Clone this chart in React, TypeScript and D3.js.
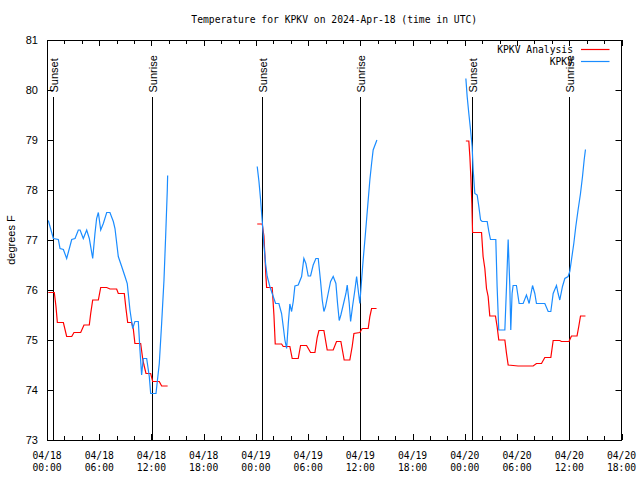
import React from "react";
import * as d3 from "d3";

const title = "Temperature for KPKV on 2024-Apr-18 (time in UTC)";
const yLabel = "degrees F";
const seriesNames = ["KPKV Analysis", "KPKV"];
const seriesColors = ["#ff0000", "#1a8cff"];
const yTicks = [73, 74, 75, 76, 77, 78, 79, 80, 81];
const xTickHours = [0, 6, 12, 18, 24, 30, 36, 42, 48, 54, 60, 66];
const sunsetHours = [0.73, 24.75, 48.84];
const sunriseHours = [12.03, 36.0, 60.0];

// [hours since 2024-04-18 00:00 UTC, temperature F]
const analysisSeg1: [number, number][] = [[0.15,75.95],[0.84,75.95],[1.03,75.67],[1.19,75.35],[1.88,75.35],[2.26,75.07],[2.84,75.07],[3.1,75.15],[3.87,75.15],[4.25,75.3],[4.86,75.3],[5.02,75.53],[5.25,75.8],[5.9,75.8],[6.17,76.05],[6.86,76.05],[7.23,76.02],[8.0,76.02],[8.19,75.93],[8.88,75.93],[9.07,75.63],[9.27,75.35],[9.72,75.35],[9.91,75.23],[10.1,74.93],[10.76,74.93],[10.99,74.63],[11.14,74.5],[11.37,74.33],[11.91,74.33],[12.14,74.17],[12.9,74.17],[13.17,74.08],[13.86,74.08]];
const analysisSeg2: [number, number][] = [[24.15,77.32],[24.73,77.32],[24.92,77.08],[25.03,76.7],[25.15,76.27],[25.23,76.05],[25.87,76.05],[26.07,75.5],[26.22,74.92],[26.95,74.92],[27.14,74.87],[27.9,74.87],[28.17,74.63],[28.86,74.63],[29.13,74.89],[29.82,74.89],[30.28,74.75],[30.78,74.75],[31.04,75.05],[31.24,75.19],[31.81,75.19],[32.19,74.8],[32.88,74.8],[33.26,74.97],[33.76,74.97],[34.14,74.6],[34.79,74.6],[35.06,74.87],[35.26,75.13],[35.94,75.15],[36.21,75.23],[36.9,75.23],[37.09,75.47],[37.29,75.63],[37.86,75.63]];
const analysisSeg3: [number, number][] = [[48.12,78.98],[48.46,78.98],[48.58,78.67],[48.69,78.27],[48.81,77.73],[48.89,77.15],[49.92,77.15],[50.1,76.67],[50.3,76.43],[50.49,76.03],[50.68,75.87],[50.87,75.48],[51.52,75.48],[51.71,75.27],[51.9,75.0],[52.6,75.0],[52.79,74.73],[52.98,74.5],[54.12,74.48],[55.85,74.48],[56.23,74.53],[56.81,74.53],[57.19,74.65],[57.88,74.65],[58.15,74.99],[58.91,74.99],[59.1,74.97],[59.97,74.97],[60.25,75.08],[60.89,75.08],[61.09,75.27],[61.29,75.48],[61.86,75.48]];

const obsSeg1: [number, number][] = [[0.15,77.39],[0.73,77.03],[1.3,77.01],[1.5,76.83],[1.88,76.81],[2.26,76.63],[2.84,77.01],[3.22,77.03],[3.6,77.2],[3.8,77.2],[4.17,77.03],[4.56,77.2],[4.86,77.03],[5.25,76.63],[5.51,77.13],[5.7,77.43],[5.9,77.55],[6.17,77.2],[6.47,77.33],[6.86,77.55],[7.23,77.55],[7.62,77.37],[7.81,77.23],[8.19,76.67],[8.58,76.47],[8.96,76.27],[9.22,76.13],[9.53,75.6],[9.84,75.23],[10.1,75.37],[10.49,75.37],[10.68,74.8],[10.87,74.3],[11.06,74.63],[11.45,74.63],[11.75,74.27],[11.91,73.93],[12.52,73.93],[12.9,74.53],[13.17,75.33],[13.44,76.2],[13.63,77.07],[13.82,78.0],[13.86,78.29]];
const obsSeg2: [number, number][] = [[24.15,78.47],[24.35,78.17],[24.54,77.8],[24.73,77.37],[24.92,76.9],[25.11,76.53],[25.3,76.27],[25.6,76.07],[25.87,75.93],[26.26,75.73],[26.64,75.73],[26.95,75.53],[27.14,75.27],[27.33,75.0],[27.53,74.83],[27.72,75.33],[27.9,75.72],[28.1,75.57],[28.29,75.77],[28.48,76.08],[28.86,76.1],[29.25,76.27],[29.51,76.63],[29.74,76.53],[30.01,76.28],[30.28,76.28],[30.58,76.5],[30.89,76.63],[31.16,76.63],[31.43,76.17],[31.62,75.8],[31.81,75.57],[32.0,75.67],[32.3,75.93],[32.58,76.17],[32.88,76.27],[33.19,76.13],[33.38,75.73],[33.57,75.39],[33.76,75.5],[34.03,75.7],[34.34,75.93],[34.49,76.1],[34.72,75.73],[34.88,75.37],[35.1,75.67],[35.37,76.0],[35.57,76.27],[35.75,76.0],[35.94,75.73],[36.14,76.2],[36.32,76.6],[36.52,77.0],[36.71,77.4],[36.9,77.8],[37.09,78.2],[37.29,78.53],[37.47,78.8],[37.9,79.0]];
const obsSeg3: [number, number][] = [[48.12,80.23],[48.27,79.87],[48.46,79.53],[48.66,79.2],[48.84,78.87],[48.96,78.4],[49.15,77.93],[49.42,77.9],[49.61,77.67],[49.81,77.4],[49.99,77.37],[50.57,77.37],[50.76,77.17],[50.95,77.01],[51.56,77.01],[51.71,76.07],[51.9,75.2],[52.6,75.2],[52.79,76.07],[52.98,77.01],[53.17,76.07],[53.28,75.2],[53.43,75.93],[53.55,76.09],[53.93,76.09],[54.24,75.73],[54.7,75.73],[55.08,75.9],[55.39,75.73],[55.78,76.09],[56.04,75.93],[56.23,75.73],[57.19,75.73],[57.58,75.57],[57.88,75.57],[58.15,75.93],[58.53,76.09],[58.72,75.93],[58.91,75.8],[59.22,76.07],[59.49,76.23],[59.87,76.27],[60.06,76.37],[60.25,76.6],[60.52,76.93],[60.75,77.27],[61.01,77.6],[61.29,77.93],[61.52,78.27],[61.71,78.6],[61.86,78.81]];

const analysisSegments = [analysisSeg1, analysisSeg2, analysisSeg3];
const obsSegments = [obsSeg1, obsSeg2, obsSeg3];

const W = 640, H = 480;
const L = 47, R = 621.5, T = 40, B = 440;
const start = Date.UTC(2024, 3, 18, 0, 0);
const hr = (h: number) => new Date(start + h * 3600000);

export default function App() {
  const x = d3.scaleUtc().domain([hr(0), hr(66)]).range([L, R]);
  const y = d3.scaleLinear().domain([73, 81]).range([B, T]);
  const line = d3.line<[number, number]>().x((d) => x(hr(d[0]))).y((d) => y(d[1]));
  const minorHours = d3.range(0, 67, 2);
  const mono = "'DejaVu Sans Mono', monospace";
  const sans = "'Liberation Sans', Arial, sans-serif";
  const fmtDate = d3.utcFormat("%m/%d");
  const fmtTime = d3.utcFormat("%H:%M");
  const events = [
    ...sunsetHours.map((h) => ({ h, label: "Sunset" })),
    ...sunriseHours.map((h) => ({ h, label: "Sunrise" })),
  ];
  return (
    <svg width={W} height={H} style={{ position: "absolute", left: 0, top: 0, background: "#fff" }}>
      <rect x={0} y={0} width={W} height={H} fill="#fff" />
      <text x={(L + R) / 2} y={23} textAnchor="middle" fontFamily={mono} fontSize={9.7} fill="#000">{title}</text>
      {/* ticks */}
      {yTicks.map((v) => (
        <g key={"y" + v}>
          <line x1={L} x2={L + 6} y1={Math.round(y(v)) + 0.5} y2={Math.round(y(v)) + 0.5} stroke="#000" />
          <line x1={R - 6} x2={R} y1={Math.round(y(v)) + 0.5} y2={Math.round(y(v)) + 0.5} stroke="#000" />
          <text x={38} y={y(v) + 4} textAnchor="end" fontFamily={sans} fontSize={11} fill="#000">{v}</text>
        </g>
      ))}
      {minorHours.map((h) => {
        const xx = Math.round(x(hr(h))) + 0.5;
        const len = h % 6 === 0 ? 6 : 4;
        return (
          <g key={"m" + h}>
            <line x1={xx} x2={xx} y1={B} y2={B - len} stroke="#000" />
            <line x1={xx} x2={xx} y1={T} y2={T + len} stroke="#000" />
          </g>
        );
      })}
      {xTickHours.map((h) => (
        <g key={"x" + h}>
          <text x={x(hr(h))} y={458.5} textAnchor="middle" fontFamily={mono} fontSize={9.7} fill="#000">{fmtDate(hr(h))}</text>
          <text x={x(hr(h))} y={471} textAnchor="middle" fontFamily={mono} fontSize={9.7} fill="#000">{fmtTime(hr(h))}</text>
        </g>
      ))}
      <text transform={`translate(15,${(T + B) / 2}) rotate(-90)`} textAnchor="middle" fontFamily={sans} fontSize={11} fill="#000">{yLabel}</text>
      {/* sunrise / sunset */}
      {events.map((e, i) => {
        const xx = Math.round(x(hr(e.h))) + 0.5;
        return (
          <g key={"e" + i}>
            <line x1={xx} x2={xx} y1={B} y2={97} stroke="#000" />
            <text transform={`translate(${xx + 4.5},92.5) rotate(-90)`} textAnchor="start" fontFamily={sans} fontSize={11} fill="#000">{e.label}</text>
          </g>
        );
      })}
      {/* series */}
      {analysisSegments.map((s, i) => (
        <path key={"a" + i} d={line(s) || ""} fill="none" stroke={seriesColors[0]} strokeWidth={1.2} />
      ))}
      {obsSegments.map((s, i) => (
        <path key={"o" + i} d={line(s) || ""} fill="none" stroke={seriesColors[1]} strokeWidth={1.2} />
      ))}
      {/* legend */}
      {seriesNames.map((n, i) => (
        <g key={"l" + i}>
          <text x={573} y={53 + i * 12} textAnchor="end" fontFamily={mono} fontSize={9.7} fill="#000">{n}</text>
          <line x1={581} x2={609.5} y1={49.5 + i * 12} y2={49.5 + i * 12} stroke={seriesColors[i]} strokeWidth={1.2} />
        </g>
      ))}
      <rect x={L + 0.5} y={T + 0.5} width={R - L - 0.5} height={B - T} fill="none" stroke="#000" />
    </svg>
  );
}
